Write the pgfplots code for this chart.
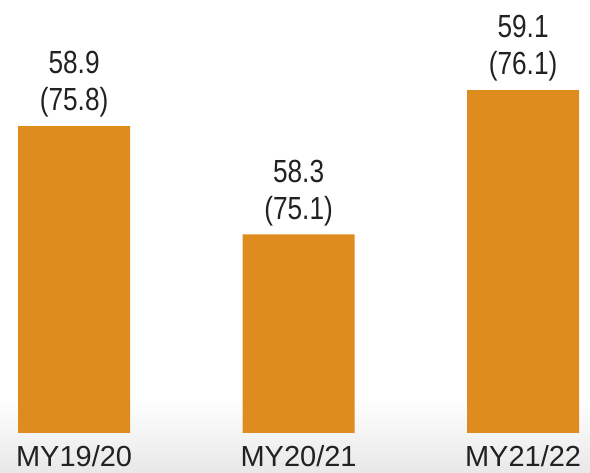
\documentclass[border=0pt]{standalone}
\usepackage{pgfplots}
\pgfplotsset{compat=1.18}
\usepackage{fontspec}
\setmainfont{Liberation Sans}
\newfontfamily\condfont[FakeStretch=0.82]{Liberation Sans}
\definecolor{barorange}{HTML}{DE8C1E}
\definecolor{txt}{HTML}{222222}
\begin{document}
\begin{tikzpicture}
\shade[top color=white, bottom color=black!9, draw=none] (0pt,-40pt) rectangle (590pt,35pt);
\begin{axis}[
  at={(0pt,0pt)}, anchor=south west,
  width=590pt, height=433pt, scale only axis,
  axis line style={draw=none},
  xmin=-0.33, xmax=2.298,
  ymin=57.2, ymax=59.599,
  clip=false,
  xtick={0,1,2},
  xticklabels={MY19/20,MY20/21,MY21/22},
  ytick=\empty,
  xtick style={draw=none},
  xticklabel style={font=\fontsize{29}{32}\selectfont, text=txt, anchor=north, inner sep=0pt, yshift=-8pt},
  ybar, bar width=112pt,
  point meta=explicit symbolic,
  nodes near coords,
  nodes near coords style={font=\condfont\fontsize{32}{37}\selectfont, text=txt, align=center, anchor=south, yshift=5pt},
]
\addplot[fill=barorange, draw=none] coordinates {
  (0,58.9) [58.9\\(75.8)]
  (1,58.3) [58.3\\(75.1)]
  (2,59.1) [59.1\\(76.1)]
};
\end{axis}
\pgfresetboundingbox
\useasboundingbox (0pt,-40pt) rectangle (590pt,433pt);
\end{tikzpicture}
\end{document}
